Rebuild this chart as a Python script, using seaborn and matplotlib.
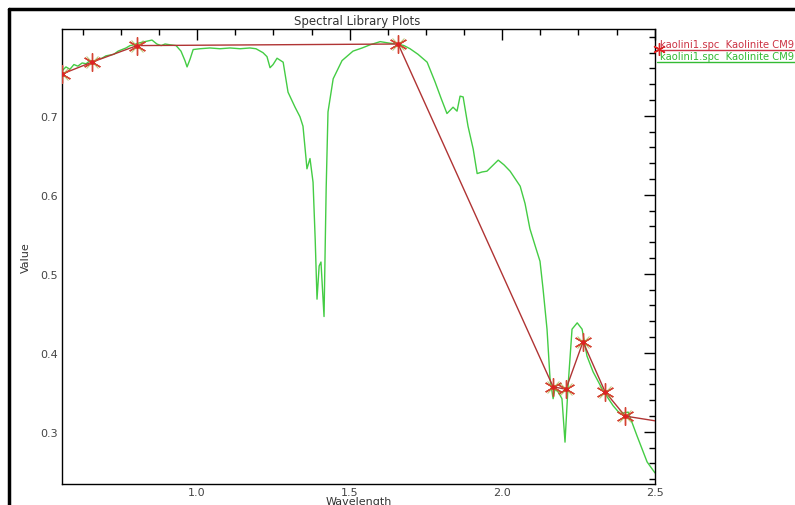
import numpy as np
import pandas as pd
import matplotlib
matplotlib.use("Agg")
import matplotlib.pyplot as plt
from matplotlib.lines import Line2D
from matplotlib.ticker import MultipleLocator
import seaborn as sns

# ---- data ----
green_wl = [0.557, 0.570, 0.583, 0.596, 0.609, 0.623, 0.636, 0.649, 0.662, 0.675,
            0.688, 0.701, 0.714, 0.727, 0.741, 0.754, 0.767, 0.780, 0.793, 0.806,
            0.829, 0.852, 0.868, 0.882, 0.895, 0.911, 0.931, 0.947, 0.960, 0.967,
            0.977, 0.987, 1.009, 1.042, 1.075, 1.108, 1.141, 1.173, 1.193, 1.216,
            1.229, 1.239, 1.249, 1.262, 1.282, 1.298, 1.321, 1.337, 1.347, 1.357,
            1.360, 1.370, 1.380, 1.387, 1.393, 1.400, 1.406, 1.409, 1.416, 1.423,
            1.429, 1.446, 1.475, 1.511, 1.541, 1.567, 1.600, 1.632, 1.659, 1.678,
            1.698, 1.724, 1.754, 1.780, 1.800, 1.819, 1.839, 1.852, 1.862, 1.872,
            1.888, 1.905, 1.918, 1.934, 1.950, 1.987, 2.006, 2.026, 2.059, 2.075,
            2.091, 2.111, 2.124, 2.134, 2.147, 2.157, 2.167, 2.173, 2.183, 2.196,
            2.206, 2.216, 2.229, 2.246, 2.262, 2.278, 2.298, 2.331, 2.364, 2.386,
            2.413, 2.442, 2.475, 2.501]
green_val = [0.757, 0.762, 0.759, 0.765, 0.763, 0.767, 0.766, 0.770, 0.768, 0.772,
             0.773, 0.776, 0.777, 0.778, 0.782, 0.784, 0.786, 0.789, 0.790, 0.792,
             0.794, 0.796, 0.791, 0.789, 0.791, 0.790, 0.789, 0.782, 0.770, 0.762,
             0.772, 0.784, 0.785, 0.786, 0.785, 0.786, 0.785, 0.786, 0.785, 0.780,
             0.775, 0.761, 0.765, 0.773, 0.768, 0.730, 0.711, 0.699, 0.687, 0.646,
             0.633, 0.646, 0.616, 0.544, 0.468, 0.510, 0.515, 0.494, 0.446, 0.608,
             0.705, 0.747, 0.770, 0.782, 0.786, 0.790, 0.794, 0.792, 0.791, 0.789,
             0.785, 0.778, 0.768, 0.743, 0.722, 0.703, 0.711, 0.706, 0.725, 0.724,
             0.687, 0.658, 0.627, 0.629, 0.630, 0.644, 0.638, 0.630, 0.611, 0.589,
             0.557, 0.532, 0.516, 0.481, 0.430, 0.367, 0.342, 0.354, 0.351, 0.342,
             0.287, 0.358, 0.430, 0.438, 0.430, 0.396, 0.376, 0.352, 0.333, 0.323,
             0.325, 0.295, 0.262, 0.248]

red_wl = [0.557, 0.655, 0.803, 1.659, 2.167, 2.209, 2.265, 2.337, 2.403, 2.501]
red_val = [0.753, 0.768, 0.789, 0.791, 0.357, 0.354, 0.414, 0.351, 0.320, 0.314]

legend_label = "kaolini1.spc  Kaolinite CM9"
title = "Spectral Library Plots"
xlabel = "Wavelength"
ylabel = "Value"
x_ticks = [1.0, 1.5, 2.0, 2.5]
y_ticks = [0.3, 0.4, 0.5, 0.6, 0.7]

# ---- style ----
sns.set_style("white")
plt.rcParams['font.family'] = ['DejaVu Sans']

W, H = 795, 506
fig = plt.figure(figsize=(W / 100, H / 100), dpi=100)
ax = fig.add_axes([62 / W, 1 - 485 / H, (655 - 62) / W, (485 - 30) / H])

GREEN = "#44cc44"
RED_LINE = "#b03434"
RED = "#dd2222"

gdf = pd.DataFrame({"wl": green_wl, "val": green_val})
rdf = pd.DataFrame({"wl": red_wl, "val": red_val})

sns.lineplot(data=gdf, x="wl", y="val", ax=ax, color=GREEN, linewidth=1.0,
             estimator=None, sort=False, zorder=2)
sns.lineplot(data=rdf, x="wl", y="val", ax=ax, color=RED_LINE, linewidth=1.0,
             estimator=None, sort=False, zorder=3)
mk = rdf.iloc[:-1]
ax.plot(mk["wl"], mk["val"], linestyle="none", marker=(6, 2, 0), markersize=13,
        markeredgewidth=1.0, color="#d44433", zorder=4, clip_on=True)
ax.plot(mk["wl"], mk["val"], linestyle="none", marker="x", markersize=8,
        markeredgewidth=0.8, color="#99aa33", alpha=0.6, zorder=4)
ax.plot(mk["wl"], mk["val"], linestyle="none", marker="o", markersize=2.5,
        color=RED, zorder=5)

ax.set_xlim(0.557, 2.501)
ax.set_ylim(0.234, 0.810)
ax.xaxis.set_major_locator(MultipleLocator(0.5))
ax.xaxis.set_minor_locator(MultipleLocator(0.125))
ax.yaxis.set_major_locator(MultipleLocator(0.1))
ax.yaxis.set_minor_locator(MultipleLocator(0.02))
ax.set_xticks(x_ticks)
ax.set_yticks(y_ticks)
ax.set_xticklabels([f"{t:.1f}" for t in x_ticks])
ax.set_yticklabels([f"{t:.1f}" for t in y_ticks])

ax.tick_params(axis="both", which="both", direction="in", top=True, right=True,
               colors="black", labelcolor="#444444", labelsize=8, pad=3)
ax.tick_params(axis="both", which="major", length=8, width=1)
ax.tick_params(axis="both", which="minor", length=4.5, width=1)
ax.tick_params(axis="x", which="both", pad=2)
for s in ax.spines.values():
    s.set_color("black")
    s.set_linewidth(1.0)
    s.set_visible(True)

ax.set_xlabel(xlabel, fontsize=8, color="#333333")
ax.set_ylabel(ylabel, fontsize=8, color="#333333")
ax.xaxis.set_label_coords(0.5, -0.026)
ax.yaxis.set_label_coords(-0.052, 0.5)
ax.xaxis.label.set_va("top")

fig.text(357 / W, 1 - 21 / H, title, ha="center", va="center", fontsize=8.5,
         color="#333333")

# outer frame
fig.add_artist(Line2D([9 / W, 9 / W], [0, 1 - 10 / H], color="black", linewidth=2.5,
                      transform=fig.transFigure))
fig.add_artist(Line2D([9 / W, 1], [1 - 10 / H, 1 - 10 / H], color="black",
                      linewidth=2.5, transform=fig.transFigure))

# legend outside
fig.text(660 / W, 1 - 45 / H, legend_label, ha="left", va="center", fontsize=7.2,
         color="#cc3344")
fig.add_artist(Line2D([657 / W, 1], [1 - 51 / H, 1 - 51 / H], color="#cc3344",
                      linewidth=1.0, transform=fig.transFigure))
fig.text(660 / W, 1 - 57 / H, legend_label, ha="left", va="center", fontsize=7.2,
         color="#33bb33")
fig.add_artist(Line2D([657 / W, 1], [1 - 63 / H, 1 - 63 / H], color="#33bb33",
                      linewidth=1.0, transform=fig.transFigure))
fig.add_artist(Line2D([659 / W], [1 - 50 / H], marker=(6, 2, 0), markersize=9,
                      color=RED, markeredgewidth=1.0, transform=fig.transFigure))

fig.savefig("out.png", dpi=100)
